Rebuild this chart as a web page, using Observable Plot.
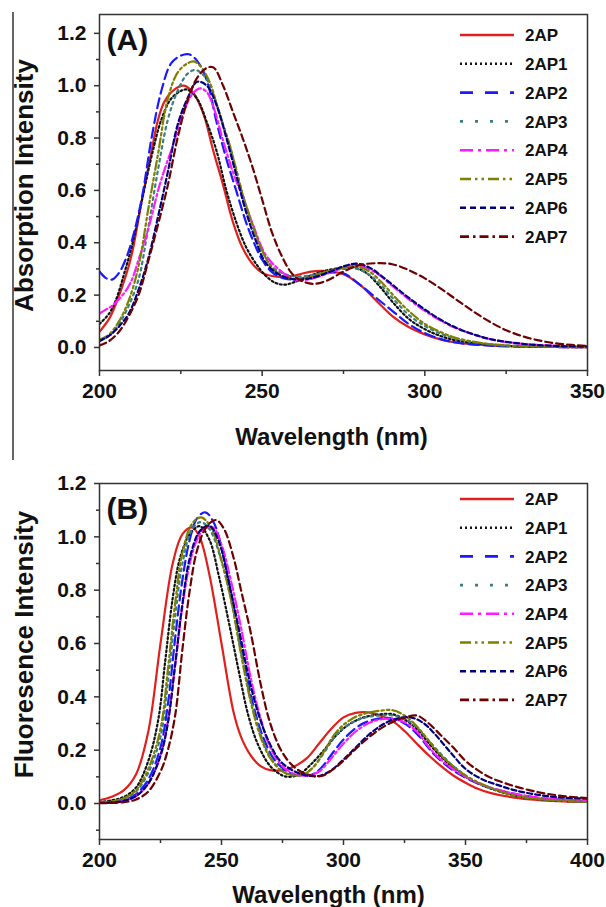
<!DOCTYPE html>
<html><head><meta charset="utf-8">
<script src="https://cdn.jsdelivr.net/npm/d3@7"></script>
<script src="https://cdn.jsdelivr.net/npm/@observablehq/plot@0.6"></script>
<style>
body{margin:0;background:#fff;}
#wrap{position:relative;width:606px;height:907px;overflow:hidden;font-family:"Liberation Sans",Arial,sans-serif;}
.panel{position:absolute;left:0;}
#border{position:absolute;left:12px;top:12px;width:1.5px;height:448px;background:#666;}
</style></head><body><div id="wrap"><div id="border"></div></div>
<script>
// ---------- series names & styles ----------
const seriesNames = ["2AP","2AP1","2AP2","2AP3","2AP4","2AP5","2AP6","2AP7"];
const seriesColors = ["#e0201e","#111111","#1a1aff","#3b7f7f","#ff1aff","#7f7f00","#00007f","#6e0000"];
const plotDash = ["none","1.8,2.6","10,5","2.5,4","9,3,2.5,3","9,3,2.5,3,2.5,3","5,3","7,4"];
const legendDash = ["none","2,3","13,12","3,12","13,5,3,5","11,4,2.5,4,2.5,4","6,4","9,4,2.5,4"];

// ---------- x ticks / y ticks ----------
const absXTicks = [200,250,300,350];
const absXMinor = [225,275,325];
const absYTicks = [0,0.2,0.4,0.6,0.8,1.0,1.2];
const absYMinor = [0.1,0.3,0.5,0.7,0.9,1.1];
const flXTicks = [200,250,300,350,400];
const flXMinor = [225,275,325,375];
const flYTicks = [0,0.2,0.4,0.6,0.8,1.0,1.2];
const flYMinor = [-0.1,0.1,0.3,0.5,0.7,0.9,1.1];

// ---------- (A) Absorption: [wavelength nm, intensity] ----------
const abs2AP = [[200,0.06],[203,0.11],[205,0.165],[208,0.27],[210,0.36],[213,0.56],[216,0.75],[218,0.87],[220,0.94],[223,0.985],[226,1.0],[229,0.97],[232,0.89],[235,0.75],[238,0.62],[241,0.48],[244,0.38],[247,0.32],[250,0.285],[255,0.27],[260,0.275],[265,0.29],[270,0.292],[275,0.28],[280,0.24],[285,0.18],[290,0.12],[295,0.078],[300,0.05],[305,0.03],[310,0.018],[320,0.008],[330,0.004],[340,0.002],[350,0.001]];
const abs2AP1 = [[200,0.09],[203,0.13],[205,0.18],[208,0.3],[210,0.39],[213,0.56],[216,0.73],[219,0.87],[222,0.95],[225,0.98],[227,0.985],[230,0.95],[233,0.86],[236,0.75],[239,0.6],[242,0.48],[245,0.385],[248,0.322],[251,0.275],[254,0.247],[257,0.24],[260,0.25],[265,0.275],[270,0.295],[275,0.305],[278,0.307],[282,0.285],[286,0.235],[290,0.175],[295,0.11],[300,0.07],[305,0.043],[310,0.026],[320,0.01],[330,0.004],[340,0.002],[350,0.001]];
const abs2AP2 = [[200,0.29],[202,0.265],[204,0.26],[206,0.285],[208,0.335],[210,0.41],[213,0.57],[216,0.8],[219,0.98],[222,1.085],[225,1.115],[227.5,1.12],[230,1.095],[233,1.02],[236,0.86],[239,0.72],[242,0.6],[245,0.48],[248,0.385],[250,0.335],[253,0.288],[257,0.263],[261,0.262],[265,0.272],[270,0.285],[275,0.283],[280,0.24],[285,0.19],[290,0.14],[295,0.09],[300,0.055],[305,0.032],[310,0.018],[320,0.007],[330,0.003],[350,0.001]];
const abs2AP3 = [[200,0.025],[203,0.045],[206,0.09],[209,0.16],[212,0.26],[215,0.46],[218,0.68],[221,0.87],[224,0.98],[227,1.045],[229.5,1.06],[232,1.04],[234,1.0],[236,0.93],[238,0.85],[240,0.77],[242,0.68],[244,0.585],[247,0.47],[250,0.37],[253,0.31],[256,0.285],[260,0.272],[265,0.275],[270,0.29],[275,0.3],[278,0.303],[282,0.285],[286,0.245],[290,0.19],[295,0.125],[300,0.082],[305,0.052],[310,0.032],[320,0.012],[330,0.005],[340,0.003],[350,0.002]];
const abs2AP4 = [[200,0.13],[202,0.145],[204,0.16],[206,0.185],[208,0.215],[210,0.26],[212,0.335],[214,0.41],[216,0.5],[218,0.6],[220,0.68],[222.5,0.77],[225,0.87],[227,0.935],[229,0.975],[231,0.99],[233,0.975],[235,0.92],[238,0.79],[241,0.67],[244,0.575],[247,0.475],[251,0.355],[255,0.3],[260,0.258],[265,0.262],[270,0.282],[275,0.305],[279,0.315],[285,0.285],[290,0.235],[295,0.185],[300,0.14],[305,0.102],[310,0.072],[320,0.032],[330,0.014],[340,0.006],[350,0.003]];
const abs2AP5 = [[200,0.03],[203,0.05],[206,0.1],[209,0.18],[212,0.31],[215,0.53],[218,0.74],[221,0.95],[224,1.05],[227,1.085],[229,1.093],[231,1.075],[234,1.01],[236,0.93],[238,0.85],[240,0.775],[242,0.68],[244,0.585],[247,0.47],[250,0.37],[253,0.305],[256,0.275],[260,0.262],[265,0.27],[270,0.29],[275,0.305],[279,0.31],[283,0.29],[287,0.245],[291,0.19],[295,0.14],[300,0.09],[305,0.058],[310,0.035],[320,0.013],[330,0.005],[340,0.003],[350,0.002]];
const abs2AP6 = [[200,0.025],[203,0.045],[206,0.08],[209,0.13],[212,0.22],[215,0.34],[218,0.5],[221,0.67],[224,0.85],[227,0.95],[230,1.015],[233,1.0],[236,0.925],[239,0.8],[242,0.66],[245,0.52],[248,0.41],[251,0.325],[255,0.28],[260,0.26],[265,0.265],[270,0.285],[275,0.31],[279,0.32],[283,0.305],[287,0.27],[291,0.23],[295,0.19],[300,0.145],[305,0.105],[310,0.073],[315,0.05],[320,0.032],[330,0.014],[340,0.006],[350,0.003]];
const abs2AP7 = [[200,0.008],[203,0.025],[206,0.06],[209,0.12],[212,0.2],[215,0.33],[218,0.47],[221,0.62],[224,0.8],[227,0.94],[230,1.03],[233,1.068],[235,1.07],[238,1.0],[241,0.9],[244,0.8],[247,0.69],[250,0.565],[253,0.44],[256,0.35],[259,0.285],[262,0.255],[266,0.243],[270,0.256],[275,0.29],[280,0.315],[286,0.322],[290,0.318],[295,0.296],[300,0.264],[305,0.224],[310,0.18],[315,0.137],[320,0.098],[325,0.066],[330,0.043],[335,0.027],[340,0.016],[345,0.01],[350,0.006]];

// ---------- (B) Fluorescence: [wavelength nm, intensity] ----------
const fl2AP = [[200,0.012],[205,0.025],[210,0.05],[215,0.11],[220,0.27],[225,0.6],[230,0.9],[234,1.01],[238,1.035],[241,1.0],[245,0.86],[250,0.6],[255,0.34],[258,0.25],[262,0.18],[266,0.14],[270,0.125],[275,0.125],[280,0.14],[285,0.17],[290,0.225],[295,0.28],[300,0.323],[305,0.34],[310,0.342],[315,0.33],[320,0.31],[325,0.272],[330,0.225],[335,0.18],[340,0.14],[345,0.105],[350,0.078],[355,0.055],[360,0.04],[370,0.022],[380,0.013],[390,0.008],[400,0.006]];
const fl2AP1 = [[200,0.005],[205,0.012],[210,0.025],[215,0.06],[220,0.16],[224,0.31],[227,0.54],[230,0.77],[233,0.92],[237,1.01],[241,1.04],[245,0.99],[249,0.85],[253,0.68],[257,0.5],[261,0.33],[265,0.22],[270,0.14],[275,0.105],[278,0.1],[282,0.11],[287,0.15],[292,0.2],[297,0.255],[302,0.295],[308,0.322],[314,0.333],[320,0.335],[325,0.315],[330,0.28],[335,0.225],[340,0.175],[345,0.135],[350,0.1],[355,0.076],[360,0.057],[370,0.03],[380,0.016],[390,0.01],[400,0.006]];
const fl2AP2 = [[200,0.002],[205,0.005],[210,0.013],[215,0.035],[220,0.09],[225,0.21],[228,0.37],[231,0.62],[234,0.84],[237,0.99],[240,1.07],[243.4,1.092],[247,1.05],[251,0.92],[255,0.74],[259,0.54],[263,0.37],[267,0.25],[272,0.16],[278,0.115],[283,0.105],[287,0.108],[291,0.135],[296,0.195],[300,0.24],[305,0.283],[310,0.308],[318,0.321],[325,0.3],[330,0.262],[337,0.186],[344,0.13],[350,0.097],[357,0.068],[364,0.049],[370,0.036],[380,0.021],[390,0.014],[400,0.01]];
const fl2AP3 = [[200,0.003],[205,0.007],[210,0.018],[215,0.045],[220,0.115],[225,0.25],[228,0.45],[231,0.7],[234,0.9],[238,1.03],[241.5,1.055],[245,1.03],[250,0.91],[254,0.76],[258,0.57],[262,0.39],[266,0.26],[270,0.175],[275,0.12],[280,0.105],[284,0.11],[288,0.14],[292,0.19],[296,0.245],[300,0.283],[305,0.31],[310,0.325],[315,0.33],[320,0.33],[325,0.318],[330,0.285],[335,0.235],[340,0.185],[345,0.14],[350,0.105],[355,0.078],[360,0.058],[370,0.03],[380,0.016],[390,0.01],[400,0.006]];
const fl2AP4 = [[200,0.002],[205,0.004],[210,0.01],[215,0.028],[220,0.075],[225,0.18],[228,0.31],[231,0.52],[234,0.74],[237,0.9],[240,0.99],[243,1.03],[246.4,1.036],[250,0.97],[254,0.83],[258,0.66],[262,0.47],[266,0.32],[270,0.21],[275,0.14],[280,0.11],[285,0.105],[290,0.12],[295,0.17],[300,0.225],[305,0.27],[310,0.3],[315,0.315],[320,0.317],[325,0.305],[330,0.27],[337,0.19],[344,0.135],[350,0.1],[357,0.07],[364,0.05],[370,0.037],[380,0.022],[390,0.014],[400,0.01]];
const fl2AP5 = [[200,0.003],[205,0.008],[210,0.02],[215,0.05],[220,0.13],[225,0.28],[228,0.5],[231,0.75],[234,0.94],[238,1.05],[241.7,1.073],[246,1.03],[250,0.91],[254,0.76],[258,0.56],[262,0.38],[266,0.25],[270,0.17],[275,0.12],[280,0.105],[284,0.11],[288,0.14],[292,0.195],[296,0.255],[300,0.295],[305,0.325],[310,0.34],[315,0.348],[320,0.35],[325,0.33],[330,0.29],[335,0.235],[340,0.18],[345,0.14],[350,0.105],[355,0.08],[360,0.06],[370,0.03],[380,0.017],[390,0.01],[400,0.006]];
const fl2AP6 = [[200,0.002],[205,0.004],[210,0.01],[215,0.028],[220,0.075],[225,0.18],[228,0.3],[231,0.52],[234,0.75],[237,0.92],[241,1.02],[245,1.042],[249,0.98],[253,0.83],[257,0.66],[261,0.48],[265,0.34],[269,0.24],[274,0.16],[280,0.12],[285,0.105],[290,0.103],[295,0.125],[300,0.165],[305,0.21],[310,0.255],[315,0.29],[320,0.313],[327.5,0.323],[333,0.3],[337,0.265],[344,0.19],[350,0.13],[357,0.09],[364,0.067],[370,0.05],[380,0.032],[390,0.022],[400,0.018]];
const fl2AP7 = [[200,0.001],[205,0.002],[210,0.005],[215,0.015],[220,0.045],[225,0.12],[228,0.2],[231,0.33],[234,0.58],[237,0.8],[240,0.95],[244,1.04],[247.8,1.063],[251,1.03],[255,0.92],[258,0.8],[262,0.64],[266,0.45],[270,0.3],[275,0.19],[280,0.135],[285,0.11],[291,0.103],[296,0.13],[300,0.16],[305,0.205],[310,0.245],[315,0.28],[320,0.305],[325,0.322],[330,0.33],[335,0.3],[340,0.255],[345,0.21],[350,0.16],[355,0.125],[360,0.098],[365,0.08],[370,0.065],[380,0.042],[390,0.028],[400,0.02]];

const absSeries = [abs2AP,abs2AP1,abs2AP2,abs2AP3,abs2AP4,abs2AP5,abs2AP6,abs2AP7];
const flSeries = [fl2AP,fl2AP1,fl2AP2,fl2AP3,fl2AP4,fl2AP5,fl2AP6,fl2AP7];

const FONT = '"Liberation Sans", Arial, Helvetica, sans-serif';
const AXIS = "#333";
const TICKFONT = 21;

function makePanel(o) {
  const marks = [];
  o.series.forEach((s, i) => {
    marks.push(Plot.line(s, {
      x: d => d[0], y: d => d[1],
      stroke: seriesColors[i], strokeWidth: 2.2,
      strokeDasharray: plotDash[i] === "none" ? null : plotDash[i],
      curve: "catmull-rom", clip: true
    }));
  });
  marks.push(Plot.frame({stroke: AXIS, strokeWidth: 1.5}));
  marks.push(Plot.axisX(o.xTicks, {tickSize: 6, tickPadding: 7, stroke: AXIS, strokeWidth: 1.5, fontSize: TICKFONT, fontWeight: "bold", label: null, tickFormat: d => String(d)}));
  marks.push(Plot.axisX(o.xMinor, {tickSize: 4, stroke: AXIS, strokeWidth: 1.5, label: null, tickFormat: () => ""}));
  marks.push(Plot.axisY(o.yTicks, {tickSize: 5, tickPadding: 8, stroke: AXIS, strokeWidth: 1.5, fontSize: TICKFONT, fontWeight: "bold", label: null, tickFormat: d3.format(".1f")}));
  marks.push(Plot.axisY(o.yMinor, {tickSize: 3, stroke: AXIS, strokeWidth: 1.5, label: null, tickFormat: () => ""}));
  marks.push(Plot.text([o.letter], {text: d => d, frameAnchor: "top-left", dx: 7, dy: o.letterDy, textAnchor: "start", lineAnchor: "middle", fontSize: 30, fontWeight: "bold", fill: "#111"}));
  marks.push(Plot.text([o.xLabel], {text: d => d, frameAnchor: "bottom", dx: o.xLabelDx, dy: o.xLabelDy, textAnchor: "middle", lineAnchor: "middle", fontSize: 24, fontWeight: "bold", fill: "#111"}));
  marks.push(Plot.text([o.yLabel], {text: d => d, frameAnchor: "left", dx: -75, dy: o.yLabelDy, rotate: -90, textAnchor: "middle", lineAnchor: "middle", fontSize: 26, fontWeight: "bold", fill: "#111"}));
  const svg = Plot.plot({
    width: 606, height: o.height,
    marginLeft: 99, marginRight: 19, marginTop: o.marginTop, marginBottom: o.marginBottom,
    x: {domain: o.xDomain, label: null},
    y: {domain: o.yDomain, label: null},
    style: {fontFamily: FONT, fontWeight: "bold", fontSize: TICKFONT + "px", color: "#111", background: "transparent", overflow: "visible"},
    marks
  });
  d3.select(svg).selectAll("g[aria-label$='tick label']")
    .attr("font-size", TICKFONT).style("font-size", TICKFONT + "px").attr("font-weight", "bold");
  return svg;
}

function makeLegend(top, rows, rowStep) {
  const svg = d3.create("svg").attr("width", 606).attr("height", 300)
    .style("position", "absolute").style("left", "0px").style("top", top + "px").style("overflow", "visible");
  seriesNames.forEach((n, i) => {
    const y = rows + i * rowStep;
    svg.append("line").attr("x1", 460).attr("x2", 514).attr("y1", y).attr("y2", y)
      .attr("stroke", seriesColors[i]).attr("stroke-width", 2.6)
      .attr("stroke-dasharray", legendDash[i] === "none" ? null : legendDash[i]);
    svg.append("text").attr("x", 525).attr("y", y).attr("dy", "0.36em")
      .attr("font-family", FONT).attr("font-weight", "bold").attr("font-size", 17).attr("fill", "#111").text(n);
  });
  return svg.node();
}

const wrap = document.getElementById("wrap");

const pA = makePanel({
  series: absSeries, xDomain: [200, 350], yDomain: [-0.088, 1.272],
  xTicks: absXTicks, xMinor: absXMinor, yTicks: absYTicks, yMinor: absYMinor,
  height: 460, marginTop: 14, marginBottom: 90,
  letter: "(A)", letterDy: 26, xLabel: "Wavelength (nm)", xLabelDx: -12, xLabelDy: 67,
  yLabel: "Absorption Intensity", yLabelDy: -7
});
const dA = document.createElement("div"); dA.className = "panel"; dA.style.top = "0px"; dA.appendChild(pA);
wrap.appendChild(dA);

const pB = makePanel({
  series: flSeries, xDomain: [200, 400], yDomain: [-0.135, 1.2],
  xTicks: flXTicks, xMinor: flXMinor, yTicks: flYTicks, yMinor: flYMinor,
  height: 447, marginTop: 23, marginBottom: 68,
  letter: "(B)", letterDy: 26, xLabel: "Wavelength (nm)", xLabelDx: -15, xLabelDy: 56,
  yLabel: "Fluoresence Intensity", yLabelDy: -17
});
const dB = document.createElement("div"); dB.className = "panel"; dB.style.top = "460px"; dB.appendChild(pB);
wrap.appendChild(dB);

wrap.appendChild(makeLegend(0, 35, 28.8));
wrap.appendChild(makeLegend(460, 39, 28.7));
</script></body></html>
